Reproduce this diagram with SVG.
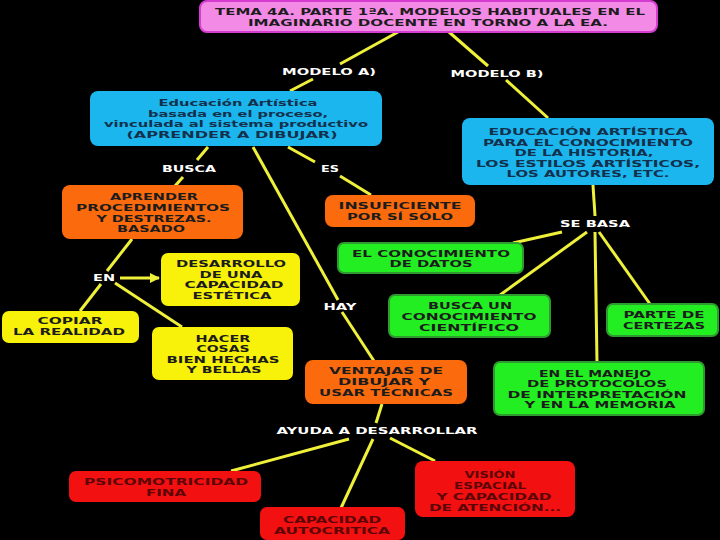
<svg xmlns="http://www.w3.org/2000/svg" width="720" height="540" viewBox="0 0 720 540">
<style>
text{font-family:"DejaVu Sans","Liberation Sans",sans-serif;font-weight:bold;font-size:9.5px;text-anchor:middle}
.dk{fill:#1c1c1c}
.bl{fill:#13304c}
.rd{fill:#5c0505}
.lb{fill:#ffffff}
.c line{stroke:#eef03a;stroke-width:3}
.pink{fill:#f38ae6;stroke:#d63cd2;stroke-width:2}
.blue{fill:#1bb6ee}
.orange{fill:#fb6a0c}
.yellow{fill:#f8f20a}
.green{fill:#22ee22;stroke:#2f9a2f;stroke-width:2}
.red{fill:#f21010}
</style>
<defs>
<marker id="ah" markerWidth="10" markerHeight="10" refX="9" refY="5" orient="auto" markerUnits="userSpaceOnUse">
<path d="M0,0 L10,5 L0,10 z" fill="#eef03a"/>
</marker>
</defs>
<rect width="720" height="540" fill="#000"/>
<g class="c" id="connectors">
<line x1="398" y1="32" x2="340" y2="64"/>
<line x1="449" y1="32" x2="488" y2="66"/>
<line x1="313" y1="79" x2="290" y2="91"/>
<line x1="506" y1="80" x2="548" y2="118"/>
<line x1="208" y1="147" x2="197" y2="160"/>
<line x1="183" y1="177" x2="175" y2="186"/>
<line x1="288" y1="147" x2="315" y2="162"/>
<line x1="340" y1="176" x2="371" y2="195"/>
<line x1="253" y1="147" x2="338" y2="300"/>
<line x1="342" y1="312" x2="374" y2="361"/>
<line x1="132" y1="239" x2="107" y2="271"/>
<line x1="101" y1="284" x2="80" y2="311"/>
<line x1="115" y1="283" x2="182" y2="327"/>
<line x1="120" y1="278" x2="159" y2="278" marker-end="url(#ah)"/>
<line x1="593" y1="185" x2="595" y2="216"/>
<line x1="562" y1="232" x2="513" y2="243"/>
<line x1="587" y1="232" x2="500" y2="295"/>
<line x1="595" y1="232" x2="597" y2="363"/>
<line x1="599" y1="232" x2="650" y2="304"/>
<line x1="382" y1="404" x2="376" y2="423"/>
<line x1="349" y1="439" x2="231" y2="471"/>
<line x1="373" y1="439" x2="341" y2="508"/>
<line x1="390" y1="438" x2="435" y2="461"/>
</g>
<g id="title">
<rect class="pink" x="200" y="1" width="457" height="31" rx="7"/>
<text class="dk" x="430" y="15" textLength="430" lengthAdjust="spacingAndGlyphs">TEMA 4A. PARTE 1ªA. MODELOS HABITUALES EN EL</text>
<text class="dk" x="428" y="26" textLength="360" lengthAdjust="spacingAndGlyphs">IMAGINARIO DOCENTE EN TORNO A LA EA.</text>
</g>
<g id="lbl-modelo-a"><text class="lb" x="329" y="75" textLength="94" lengthAdjust="spacingAndGlyphs">MODELO A)</text></g>
<g id="lbl-modelo-b"><text class="lb" x="497" y="77" textLength="93" lengthAdjust="spacingAndGlyphs">MODELO B)</text></g>
<g id="modelo-a">
<rect class="blue" x="90" y="91" width="292" height="55" rx="8"/>
<text class="bl" x="238" y="106" textLength="159" lengthAdjust="spacingAndGlyphs">Educación Artística</text>
<text class="bl" x="238" y="117" textLength="180" lengthAdjust="spacingAndGlyphs">basada en el proceso,</text>
<text class="bl" x="236" y="127" textLength="264" lengthAdjust="spacingAndGlyphs">vinculada al sistema productivo</text>
<text class="bl" x="232" y="138" textLength="211" lengthAdjust="spacingAndGlyphs">(APRENDER A DIBUJAR)</text>
</g>
<g id="modelo-b">
<rect class="blue" x="462" y="118" width="252" height="67" rx="8"/>
<text class="bl" x="588" y="135" textLength="199" lengthAdjust="spacingAndGlyphs">EDUCACIÓN ARTÍSTICA</text>
<text class="bl" x="588" y="146" textLength="210" lengthAdjust="spacingAndGlyphs">PARA EL CONOCIMIENTO</text>
<text class="bl" x="584" y="156" textLength="139" lengthAdjust="spacingAndGlyphs">DE LA HISTORIA,</text>
<text class="bl" x="588" y="167" textLength="224" lengthAdjust="spacingAndGlyphs">LOS ESTILOS ARTÍSTICOS,</text>
<text class="bl" x="588" y="177" textLength="163" lengthAdjust="spacingAndGlyphs">LOS AUTORES, ETC.</text>
</g>
<g id="lbl-busca"><text class="lb" x="189" y="172" textLength="54" lengthAdjust="spacingAndGlyphs">BUSCA</text></g>
<g id="lbl-es"><text class="lb" x="330" y="172" textLength="18" lengthAdjust="spacingAndGlyphs">ES</text></g>
<g id="aprender">
<rect class="orange" x="62" y="185" width="181" height="54" rx="8"/>
<text class="dk" x="154" y="200" textLength="88" lengthAdjust="spacingAndGlyphs">APRENDER</text>
<text class="dk" x="153" y="211" textLength="154" lengthAdjust="spacingAndGlyphs">PROCEDIMIENTOS</text>
<text class="dk" x="154" y="222" textLength="115" lengthAdjust="spacingAndGlyphs">Y DESTREZAS.</text>
<text class="dk" x="151" y="232" textLength="68" lengthAdjust="spacingAndGlyphs">BASADO</text>
</g>
<g id="insuficiente">
<rect class="orange" x="325" y="195" width="150" height="32" rx="8"/>
<text class="dk" x="400" y="209" textLength="123" lengthAdjust="spacingAndGlyphs">INSUFICIENTE</text>
<text class="dk" x="400" y="220" textLength="106" lengthAdjust="spacingAndGlyphs">POR SÍ SÓLO</text>
</g>
<g id="lbl-se-basa"><text class="lb" x="595" y="227" textLength="70" lengthAdjust="spacingAndGlyphs">SE BASA</text></g>
<g id="datos">
<rect class="green" x="338" y="243" width="185" height="30" rx="6"/>
<text class="dk" x="431" y="257" textLength="158" lengthAdjust="spacingAndGlyphs">EL CONOCIMIENTO</text>
<text class="dk" x="431" y="267" textLength="83" lengthAdjust="spacingAndGlyphs">DE DATOS</text>
</g>
<g id="lbl-en"><text class="lb" x="104" y="281" textLength="22" lengthAdjust="spacingAndGlyphs">EN</text></g>
<g id="desarrollo">
<rect class="yellow" x="161" y="253" width="139" height="53" rx="7"/>
<text class="dk" x="231" y="267" textLength="110" lengthAdjust="spacingAndGlyphs">DESARROLLO</text>
<text class="dk" x="231" y="278" textLength="63" lengthAdjust="spacingAndGlyphs">DE UNA</text>
<text class="dk" x="234" y="288" textLength="99" lengthAdjust="spacingAndGlyphs">CAPACIDAD</text>
<text class="dk" x="232" y="299" textLength="79" lengthAdjust="spacingAndGlyphs">ESTÉTICA</text>
</g>
<g id="lbl-hay"><text class="lb" x="340" y="310" textLength="33" lengthAdjust="spacingAndGlyphs">HAY</text></g>
<g id="busca-un">
<rect class="green" x="389" y="295" width="161" height="42" rx="6"/>
<text class="dk" x="470" y="309" textLength="84" lengthAdjust="spacingAndGlyphs">BUSCA UN</text>
<text class="dk" x="469" y="320" textLength="135" lengthAdjust="spacingAndGlyphs">CONOCIMIENTO</text>
<text class="dk" x="469" y="331" textLength="100" lengthAdjust="spacingAndGlyphs">CIENTÍFICO</text>
</g>
<g id="parte-de">
<rect class="green" x="607" y="304" width="111" height="32" rx="6"/>
<text class="dk" x="664" y="318" textLength="81" lengthAdjust="spacingAndGlyphs">PARTE DE</text>
<text class="dk" x="664" y="329" textLength="82" lengthAdjust="spacingAndGlyphs">CERTEZAS</text>
</g>
<g id="copiar">
<rect class="yellow" x="2" y="311" width="137" height="32" rx="7"/>
<text class="dk" x="70" y="324" textLength="65" lengthAdjust="spacingAndGlyphs">COPIAR</text>
<text class="dk" x="69" y="335" textLength="112" lengthAdjust="spacingAndGlyphs">LA REALIDAD</text>
</g>
<g id="hacer">
<rect class="yellow" x="152" y="327" width="141" height="53" rx="7"/>
<text class="dk" x="223" y="342" textLength="55" lengthAdjust="spacingAndGlyphs">HACER</text>
<text class="dk" x="223" y="352" textLength="53" lengthAdjust="spacingAndGlyphs">COSAS</text>
<text class="dk" x="223" y="363" textLength="113" lengthAdjust="spacingAndGlyphs">BIEN HECHAS</text>
<text class="dk" x="224" y="373" textLength="75" lengthAdjust="spacingAndGlyphs">Y BELLAS</text>
</g>
<g id="ventajas">
<rect class="orange" x="305" y="360" width="162" height="44" rx="8"/>
<text class="dk" x="386" y="374" textLength="114" lengthAdjust="spacingAndGlyphs">VENTAJAS DE</text>
<text class="dk" x="384" y="385" textLength="92" lengthAdjust="spacingAndGlyphs">DIBUJAR Y</text>
<text class="dk" x="386" y="396" textLength="134" lengthAdjust="spacingAndGlyphs">USAR TÉCNICAS</text>
</g>
<g id="manejo">
<rect class="green" x="494" y="362" width="210" height="53" rx="6"/>
<text class="dk" x="595" y="377" textLength="112" lengthAdjust="spacingAndGlyphs">EN EL MANEJO</text>
<text class="dk" x="597" y="387" textLength="140" lengthAdjust="spacingAndGlyphs">DE PROTOCOLOS</text>
<text class="dk" x="597" y="398" textLength="179" lengthAdjust="spacingAndGlyphs">DE INTERPRETACIÓN</text>
<text class="dk" x="600" y="408" textLength="151" lengthAdjust="spacingAndGlyphs">Y EN LA MEMORIA</text>
</g>
<g id="lbl-ayuda"><text class="lb" x="377" y="434" textLength="201" lengthAdjust="spacingAndGlyphs">AYUDA A DESARROLLAR</text></g>
<g id="psico">
<rect class="red" x="69" y="471" width="192" height="31" rx="7"/>
<text class="rd" x="166" y="485" textLength="164" lengthAdjust="spacingAndGlyphs">PSICOMOTRICIDAD</text>
<text class="rd" x="166" y="496" textLength="40" lengthAdjust="spacingAndGlyphs">FINA</text>
</g>
<g id="capacidad">
<rect class="red" x="260" y="507" width="145" height="33" rx="7"/>
<text class="rd" x="332" y="523" textLength="98" lengthAdjust="spacingAndGlyphs">CAPACIDAD</text>
<text class="rd" x="332" y="534" textLength="116" lengthAdjust="spacingAndGlyphs">AUTOCRITICA</text>
</g>
<g id="vision">
<rect class="red" x="415" y="461" width="160" height="56" rx="8"/>
<text class="rd" x="490" y="478" textLength="51" lengthAdjust="spacingAndGlyphs">VISIÓN</text>
<text class="rd" x="490" y="489" textLength="72" lengthAdjust="spacingAndGlyphs">ESPACIAL</text>
<text class="rd" x="494" y="500" textLength="115" lengthAdjust="spacingAndGlyphs">Y CAPACIDAD</text>
<text class="rd" x="495" y="511" textLength="132" lengthAdjust="spacingAndGlyphs">DE ATENCIÓN...</text>
</g>
</svg>
